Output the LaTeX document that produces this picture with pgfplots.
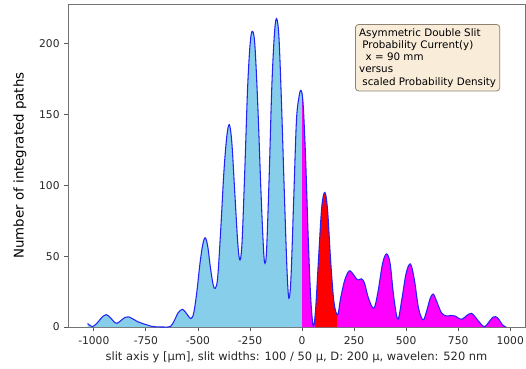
\documentclass[border=0pt]{standalone}
\usepackage{fontspec}
\setmainfont{DejaVu Sans}
\usepackage{pgfplots}
\usepackage{pgfplotstable}
\pgfplotsset{compat=1.18}
\usepgfplotslibrary{fillbetween}

\definecolor{skyb}{RGB}{135,206,235}
\definecolor{magen}{RGB}{255,0,255}
\definecolor{redc}{RGB}{255,0,0}
\definecolor{linec}{RGB}{35,35,245}
\definecolor{boxfill}{RGB}{249,237,217}
\definecolor{boxdraw}{RGB}{140,130,115}

\pgfplotstableread{
x y
-1030 2.5
-1005 0.3
-980 3.5
-960 7
-940 8.7
-920 6.5
-900 3.2
-889 2.6
-870 4.5
-850 6.8
-833 7.2
-810 5.5
-790 3.8
-769 2.6
-745 1.5
-721 0.4
-695 0.1
-665 0
-633 0.3
-615 4
-595 10
-574 12.5
-555 9.5
-534 6
-520 10
-505 25
-490 45
-477 58
-465 63
-453 57
-440 42
-427 30
-417 27.3
-405 35
-390 70
-375 110
-361 135
-349 142.8
-337 130
-323 95
-308 58
-298 47.3
-288 60
-275 110
-261 170
-248 202
-237 208.7
-226 198
-212 155
-197 95
-185 55
-178 45
-170 55
-157 110
-145 170
-132 208
-122 217.7
-111 205
-99 160
-85 95
-72 40
-63 20.3
-53 35
-40 90
-27 145
-15 162
-5 167
5 158
17 120
30 62
42 20
54 0.7
65 12
80 50
95 85
110 95
123 82
137 48
153 18
171 8.5
185 20
205 33
227 39.6
247 37
267 33.2
285 34
300 31
320 20
345 13.2
365 25
387 45
406 51.6
423 45
440 22
460 5.5
480 20
500 38
521 44.5
540 33
560 13
582 5
600 12
615 20
630 23.3
647 18
670 10
694 7.8
715 8.2
734 7.8
766 5.4
790 8
814 9.7
835 6.5
857 2.5
877 0.2
900 4
917 7
930 7.3
945 5.5
963 1.5
980 0
}\curve

\begin{document}
\begin{tikzpicture}
\begin{axis}[name=ax,
  scale only axis, width=342.75pt, height=242.25pt,
  xmin=-1124, xmax=1071, ymin=0, ymax=228,
  xtick={-1000,-750,...,1000}, ytick={0,50,...,200},
  tick align=outside, tick pos=left, major tick length=2.8pt,
  every tick/.style={black!65, line width=0.6pt},
  axis line style={black!55, line width=0.65pt},
  /pgf/number format/assume math mode=true,
  /pgf/number format/1000 sep={},
  ticklabel style={font=\fontsize{8}{9.6}\selectfont, text=black!85},
  xticklabel style={yshift=-1pt},
  label style={font=\fontsize{8.6}{10.3}\selectfont, text=black!85},
  xlabel={slit axis y [μm], slit widths: 100 / 50 μ, D: 200 μ, wavelen: 520 nm},
  ylabel={Number of integrated paths},
  xlabel style={yshift=2pt},
  every axis y label/.style={at={(rel axis cs:0,0.5)}, xshift=-36pt, rotate=90, anchor=center},
  clip=true,
]
\addplot[draw=none, name path=base, forget plot] coordinates {(-1030,0) (980,0)};
\addplot[draw=none, name path=curve, smooth, tension=0.55, forget plot] table[x=x,y=y] {\curve};
\addplot[skyb, draw=none] fill between[of=curve and base, soft clip={domain=-1124:0}];
\addplot[magen, draw=none] fill between[of=curve and base, soft clip={domain=0:63}];
\addplot[redc, draw=none] fill between[of=curve and base, soft clip={domain=63:168}];
\addplot[magen, draw=none] fill between[of=curve and base, soft clip={domain=168:1071}];
\addplot[linec, line width=0.8pt, smooth, tension=0.55] table[x=x,y=y] {\curve};
\node[anchor=north west, draw=boxdraw, fill=boxfill, rounded corners=2.5pt,
      line width=0.6pt, inner sep=2.8pt, align=left,
      font=\fontsize{7.75}{9.2}\selectfont]
  at (rel axis cs:0.628,0.938)
  {Asymmetric Double Slit\\
   \ Probability Current(y)\\
   \ \ x = 90 mm\\
   versus\\
   \ scaled Probability Density};
\end{axis}
\pgfresetboundingbox
\path[use as bounding box] ([xshift=-51pt,yshift=-30.75pt]ax.south west) rectangle ([xshift=0.75pt,yshift=3pt]ax.north east);
\end{tikzpicture}
\end{document}
